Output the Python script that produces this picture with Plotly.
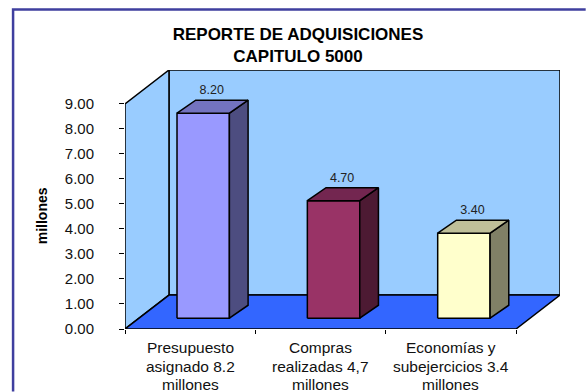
import plotly.graph_objects as go

categories = [
    ["Presupuesto", "asignado 8.2", "millones"],
    ["Compras", "realizadas 4,7", "millones"],
    ["Economías y", "subejercicios 3.4", "millones"],
]
values = [8.20, 4.70, 3.40]
y_ticks = [0, 1, 2, 3, 4, 5, 6, 7, 8, 9]
front_colors = ["#9999FF", "#993366", "#FFFFCC"]
side_colors = ["#4D4D80", "#4D1A33", "#808066"]
top_colors = ["#7373BF", "#732650", "#BFBF99"]

W, H = 586, 392
L, R, T, B = 125.0, 560.3, 70.0, 329.5
YMAX = 9
DX = 44 / 130.43   # depth projection in category units
DY = 34 / 25.06    # depth projection in value units
BAR_LEFT = 0.399
BAR_W = 0.402
BAR_Z0 = 0.318
BAR_DX = 18.7 / 130.43
BAR_DY = 13.0 / 25.06
LABEL_GAP = 0.12
WALL = "#99CCFF"
FLOOR = "#3366FF"
LW = 1.5

fig = go.Figure()


def poly(xs, ys, color):
    fig.add_trace(go.Scatter(
        x=xs + xs[:1], y=ys + ys[:1], mode="lines", fill="toself", fillcolor=color,
        line=dict(color="black", width=LW), hoverinfo="skip", showlegend=False,
        cliponaxis=False,
    ))


n = len(values)
poly([DX, n + DX, n + DX, DX], [DY, DY, YMAX + DY, YMAX + DY], WALL)
poly([0, DX, DX, 0], [0, DY, YMAX + DY, YMAX], WALL)
poly([0, n, n + DX, DX], [0, 0, DY, DY], FLOOR)

for i, v in enumerate(values):
    x0 = i + BAR_LEFT
    x1 = x0 + BAR_W
    y0 = BAR_Z0 * DY
    y1 = y0 + v
    poly([x0, x1, x1, x0], [y0, y0, y1, y1], front_colors[i])
    poly([x1, x1 + BAR_DX, x1 + BAR_DX, x1], [y0, y0 + BAR_DY, y1 + BAR_DY, y1], side_colors[i])
    poly([x0, x1, x1 + BAR_DX, x0 + BAR_DX], [y1, y1, y1 + BAR_DY, y1 + BAR_DY], top_colors[i])
    fig.add_trace(go.Scatter(
        x=[(x0 + x1 + BAR_DX) / 2 - 0.006], y=[y1 + BAR_DY + LABEL_GAP], mode="text",
        text=[f"{v:.2f}"], textposition="top center",
        textfont=dict(size=12.5, color="#222222"),
        hoverinfo="skip", showlegend=False, cliponaxis=False,
    ))

plot_h = B - T
annotations = []
line_py = [348, 367.5, 385]
for i, lines in enumerate(categories):
    for py, s in zip(line_py, lines):
        annotations.append(dict(
            x=i + 0.5, xref="x", y=(B - py) / plot_h, yref="paper",
            text=s, showarrow=False, xanchor="center", yanchor="middle",
            font=dict(size=15.5, color="#111111"),
        ))
annotations.append(dict(
    x=(42 - L) / (R - L), xref="paper", y=(B - 216.5) / plot_h, yref="paper",
    text="<b>millones</b>", textangle=-90, showarrow=False,
    xanchor="center", yanchor="middle", font=dict(size=14, color="black"),
))

bx0, by0 = 13.0, 9.5
fig.update_layout(
    width=W, height=H,
    margin=dict(l=L, r=W - R, t=T, b=H - B, pad=0, autoexpand=False),
    paper_bgcolor="white", plot_bgcolor="white",
    font=dict(family="Liberation Sans, Arial, sans-serif", color="black"),
    title=dict(
        text="<b>REPORTE DE ADQUISICIONES<br>CAPITULO 5000</b>",
        x=298 / W, xref="container", xanchor="center",
        y=1 - 39.5 / H, yanchor="middle",
        font=dict(size=17, color="black"),
    ),
    xaxis=dict(
        range=[0, n + DX], tickvals=[0, 1, 2, 3], ticktext=["", "", "", ""],
        ticks="outside", ticklen=4, tickcolor="black", tickwidth=1,
        showgrid=False, zeroline=False, showline=False, fixedrange=True,
    ),
    yaxis=dict(
        range=[0, YMAX + DY], tickvals=y_ticks, tickformat=".2f",
        ticks="outside", ticklen=5, tickcolor="black", tickwidth=1,
        ticklabelstandoff=22,
        tickfont=dict(size=15, color="#111111"),
        showgrid=False, zeroline=False, showline=False, fixedrange=True,
    ),
    annotations=annotations,
    shapes=[dict(
        type="path", xref="paper", yref="paper", layer="above",
        path=(f"M {(W - L) / (R - L)} {(B - by0) / plot_h} "
              f"L {(bx0 - L) / (R - L)} {(B - by0) / plot_h} "
              f"L {(bx0 - L) / (R - L)} {(B - H) / plot_h}"),
        line=dict(color="#3F3F9F", width=2.5),
    )],
)

fig.write_html(
    "out.html",
    config={"displayModeBar": False},
    post_script="document.body.style.margin='0';document.body.style.overflow='hidden';",
)
